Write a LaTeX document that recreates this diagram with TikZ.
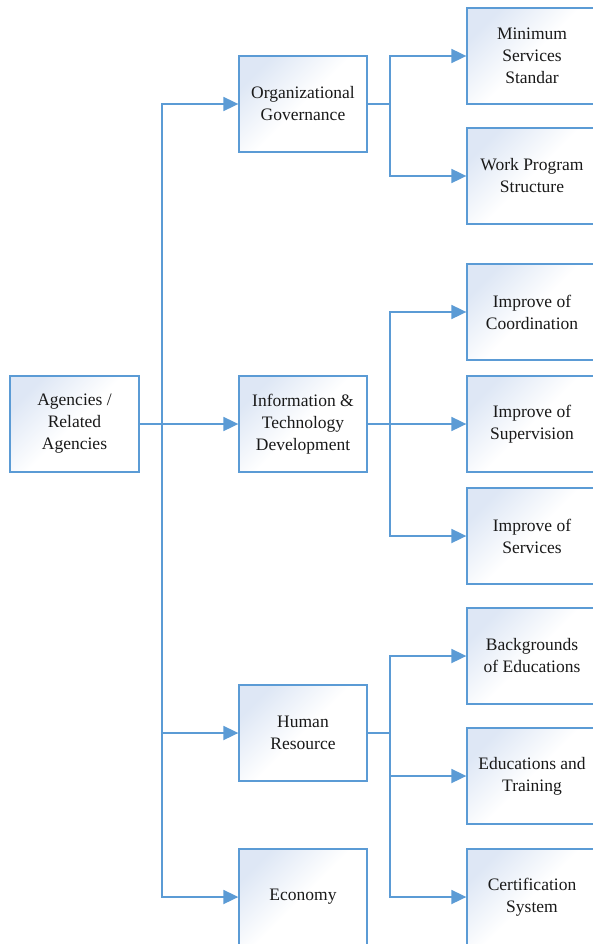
\documentclass[tikz,border=0pt]{standalone}
\usepackage{fontspec}
\setmainfont{Liberation Serif}
\newfontfamily\tmsfont{Liberation Serif}
\usetikzlibrary{arrows.meta}
\definecolor{bc}{RGB}{91,155,213}
\definecolor{shadec}{RGB}{222,231,245}
\begin{document}
\begin{tikzpicture}[x=1pt,y=-1pt,
  box/.style={draw=bc, line width=1.3pt, minimum width=128pt, minimum height=96pt,
    inner sep=2pt, align=center, top color=shadec, bottom color=white, middle color=white, shading angle=45,
    font=\tmsfont\fontsize{17.5}{22}\selectfont, text=black!90},
  wbox/.style={box, minimum width=130pt},
  conn/.style={draw=bc, line width=1.8pt},
  arr/.style={conn, -{Triangle[length=15pt,width=14pt]}}]
\useasboundingbox (0,0) rectangle (593,944);
\node[box, minimum width=129pt] (ag) at (74.5,424) {Agencies /\\Related\\Agencies};
\node[box] (og) at (303,104) {Organizational\\Governance};
\node[box] (it) at (303,424) {Information \&\\Technology\\Development};
\node[box] (hr) at (303,733) {Human\\Resource};
\node[box] (ec) at (303,897) {Economy};
\node[wbox] (ms) at (532,56) {Minimum\\Services\\Standar};
\node[wbox] (wp) at (532,176) {Work Program\\Structure};
\node[wbox] (co) at (532,312) {Improve of\\Coordination};
\node[wbox] (su) at (532,424) {Improve of\\Supervision};
\node[wbox] (se) at (532,536) {Improve of\\Services};
\node[wbox] (bg) at (532,656) {Backgrounds\\of Educations};
\node[wbox] (ed) at (532,776) {Educations and\\Training};
\node[wbox] (ce) at (532,897) {Certification\\System};
\coordinate (tr) at (162,0);
\coordinate (b) at (390,0);
% trunk
\draw[arr] (ag.east) -- (it.west);
\draw[arr] (it.west -| tr) |- (og.west);
\draw[arr] (it.west -| tr) |- (ec.west);
\draw[arr] (hr.west -| tr) -- (hr.west);
% organizational governance
\draw[conn] (og.east) -- (og.east -| b);
\draw[arr] (og.east -| b) |- (ms.west);
\draw[arr] (og.east -| b) |- (wp.west);
% information technology
\draw[arr] (it.east) -- (su.west);
\draw[arr] (it.east -| b) |- (co.west);
\draw[arr] (it.east -| b) |- (se.west);
% human resource
\draw[conn] (hr.east) -- (hr.east -| b);
\draw[arr] (hr.east -| b) |- (bg.west);
\draw[arr] (hr.east -| b) |- (ed.west);
\draw[arr] (hr.east -| b) |- (ce.west);
\end{tikzpicture}
\end{document}
